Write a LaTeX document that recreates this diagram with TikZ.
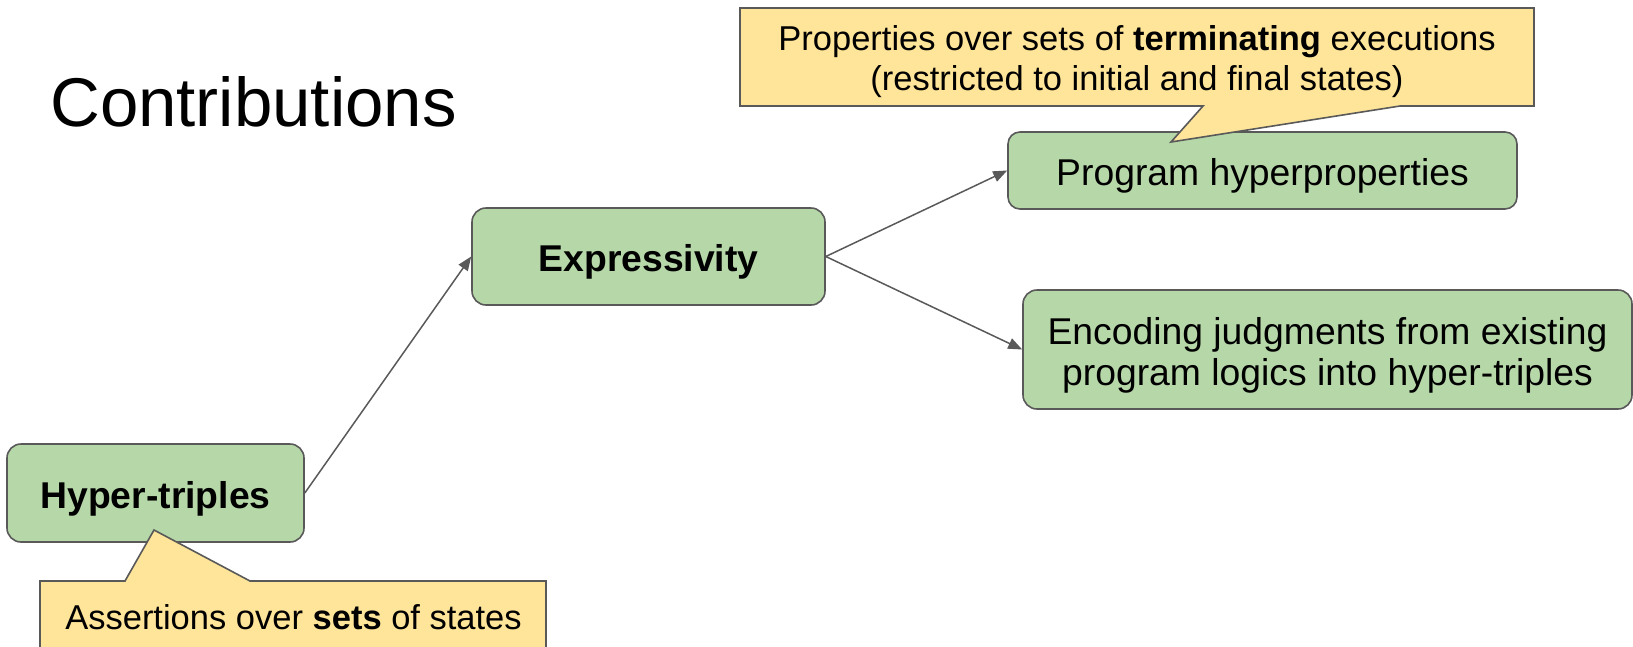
\documentclass[tikz,border=0pt]{standalone}
\usepackage{fontspec}
\setmainfont{Liberation Sans}
\usetikzlibrary{arrows.meta}

\definecolor{boxgreen}{HTML}{B6D7A8}
\definecolor{noteyellow}{HTML}{FFE599}
\definecolor{edgegray}{HTML}{595959}

\begin{document}
\begin{tikzpicture}[x=1pt, y=-1pt,
  stepbox/.style={draw=edgegray, line width=1.6pt, fill=boxgreen,
    rounded corners=14pt, inner sep=0pt, align=center,
    font=\fontsize{37.3}{40.5}\selectfont, text height=30.7pt, text depth=0pt},
  notebox/.style={draw=edgegray, line width=1.6pt, fill=noteyellow, line join=miter},
  notetext/.style={inner sep=0pt, align=center,
    font=\fontsize{34.5}{40}\selectfont, text height=24.7pt, text depth=0pt},
  conn/.style={draw=edgegray, line width=1.5pt,
    -{Triangle[length=14pt, width=11pt]}}
]
\useasboundingbox (0,0) rectangle (1633,646);
\clip (0,0) rectangle (1633,646);

% slide title
\node[anchor=base west, inner sep=0pt, font=\fontsize{69}{80}\selectfont]
  (title) at (50,126) {Contributions};

% contribution boxes (two-line text: height spans both lines)
\node[stepbox, minimum width=297pt, minimum height=98pt] (hyper) at (155.5,493)
  {\textbf{Hyper-triples}};
\node[stepbox, minimum width=353pt, minimum height=97pt] (expr) at (648.5,256.5)
  {\textbf{Expressivity}};
\node[stepbox, rounded corners=12pt, minimum width=509pt, minimum height=77pt] (prog) at (1262.5,170.5)
  {Program hyperproperties};
\node[stepbox, text height=71.2pt, minimum width=609pt, minimum height=119pt] (enc) at (1327.5,349.5)
  {Encoding judgments from existing\\program logics into hyper-triples};

% connectors
\draw[conn] (hyper.east) -- (expr.west);
\draw[conn] (expr.east) -- (prog.west);
\draw[conn] (expr.east) -- (enc.west);

% callout above "Program hyperproperties"
\draw[notebox] (740,8) -- (1534,8) -- (1534,106) -- (1400,106) -- (1171,142)
  -- (1203,106) -- (740,106) -- cycle;
\node[notetext, text height=66.7pt] (termnote) at (1137,56.7)
  {Properties over sets of \textbf{terminating} executions\\(restricted to initial and final states)};

% callout below "Hyper-triples"
\draw[notebox] (40,665) -- (40,581) -- (125,581) -- (154,530) -- (250,581)
  -- (546,581) -- (546,665);
\node[notetext] (setnote) at (293.5,617)
  {Assertions over \textbf{sets} of states};
\end{tikzpicture}
\end{document}
